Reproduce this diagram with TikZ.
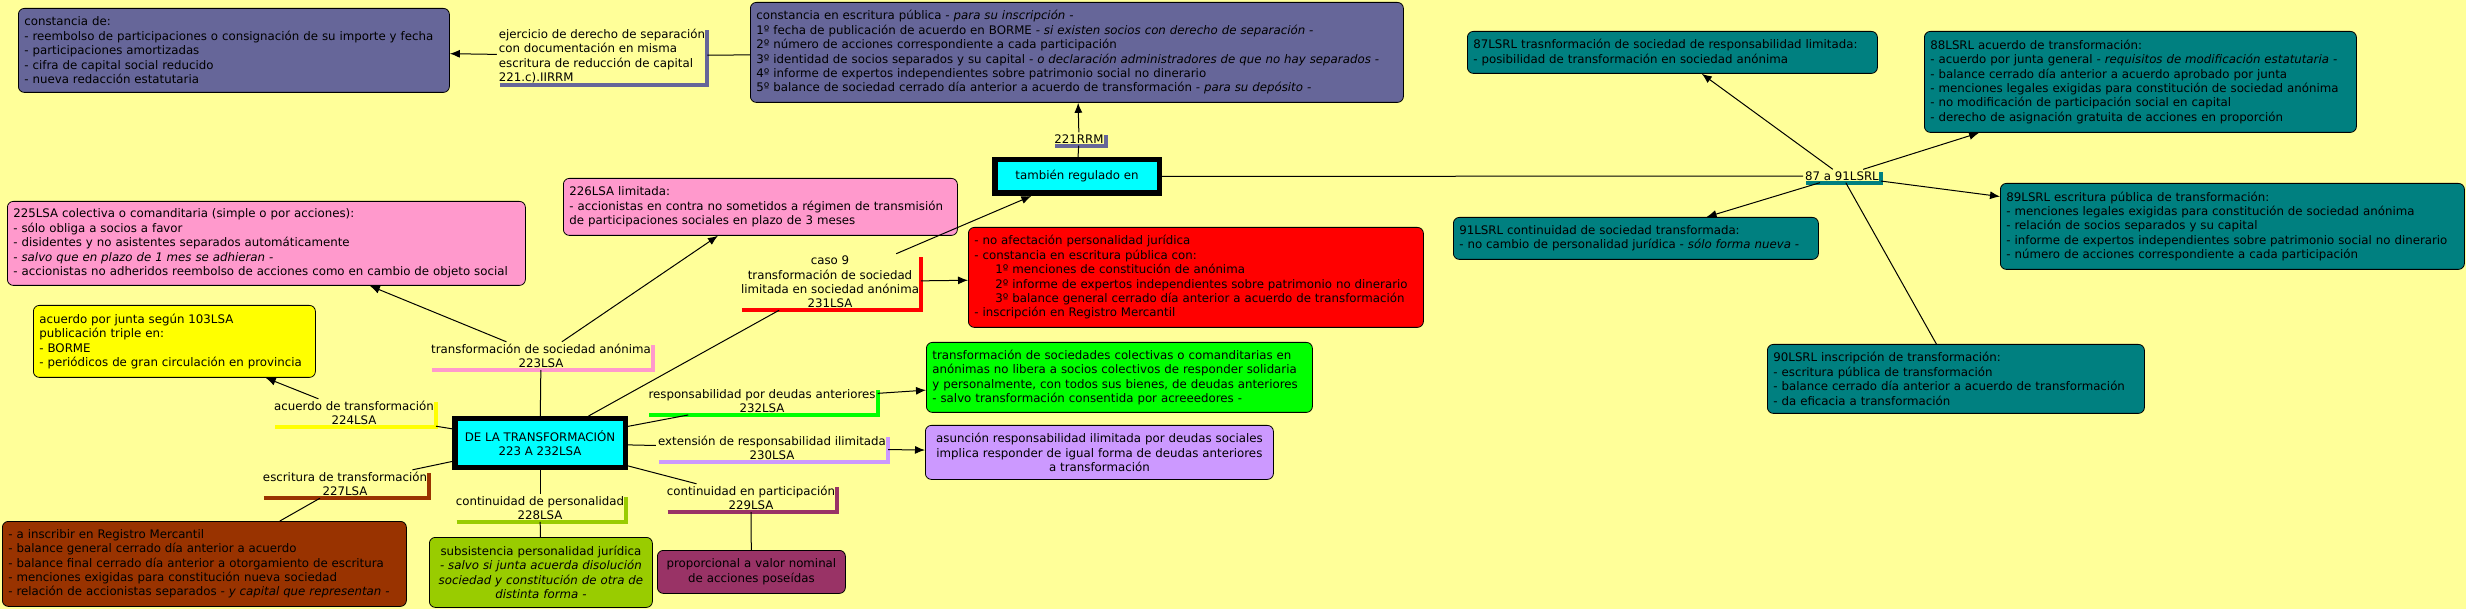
\documentclass[tikz,border=0pt]{standalone}
\usepackage{fontspec}
\setmainfont{DejaVu Sans}
\usepackage{xcolor}
\usepackage{tikz}
\usetikzlibrary{arrows.meta}

\definecolor{bgyellow}{HTML}{FFFF99}
\definecolor{slate}{HTML}{666699}
\definecolor{hubcyan}{HTML}{00FFFF}
\definecolor{rosa}{HTML}{FF99CC}
\definecolor{amarillo}{HTML}{FFFF00}
\definecolor{rojo}{HTML}{FF0000}
\definecolor{verde}{HTML}{00FF00}
\definecolor{lila}{HTML}{CC99FF}
\definecolor{marron}{HTML}{993300}
\definecolor{oliva}{HTML}{99CC00}
\definecolor{ciruela}{HTML}{993366}
\definecolor{petroleo}{HTML}{008080}

\begin{document}
\begin{tikzpicture}[
  x=1pt, y=-1pt,
  font=\fontsize{11.8}{14.4}\selectfont,
  block/.style={
    rectangle, draw, anchor=north west,
    rounded corners=6pt, line width=0.8pt,
    align=left, inner xsep=6pt
  },
  hub/.style={
    rectangle, draw, fill=hubcyan,
    line width=5.5pt, align=center
  },
  phrase/.style={inner sep=2pt, align=center},
  ledge/.style={line width=4pt},
  line/.style={draw, line width=1pt},
  arrowline/.style={line, -{Latex[length=10pt,width=8pt]}}
]

  \useasboundingbox (0,0) rectangle (2466,609);
  \fill[bgyellow] (0,0) rectangle (2466,609);

  \node [hub, minimum width=170.5pt, minimum height=48.5pt] (main) at (540,443) {DE LA TRANSFORMACIÓN\\223 A 232LSA};
  \node [hub, minimum width=164.5pt, minimum height=33.5pt] (tambien) at (1077,176.5) {también regulado en};

  \node [block, fill=slate, text width=419pt, minimum height=84pt] (c221) at (18,8) {constancia de:\\- reembolso de participaciones o consignación de su importe y fecha\\- participaciones amortizadas\\- cifra de capital social reducido\\- nueva redacción estatutaria};
  \node [block, fill=slate, text width=641pt, minimum height=100pt] (crrm) at (750,2) {constancia en escritura pública \textit{- para su inscripción -}\\1º fecha de publicación de acuerdo en BORME \textit{- si existen socios con derecho de separación -}\\2º número de acciones correspondiente a cada participación\\3º identidad de socios separados y su capital \textit{- o declaración administradores de que no hay separados -}\\4º informe de expertos independientes sobre patrimonio social no dinerario\\5º balance de sociedad cerrado día anterior a acuerdo de transformación \textit{- para su depósito -}};
  \node [block, fill=petroleo, text width=398pt, minimum height=42pt] (b87) at (1467,31) {87LSRL trasnformación de sociedad de responsabilidad limitada:\\- posibilidad de transformación en sociedad anónima};
  \node [block, fill=petroleo, text width=420pt, minimum height=101pt] (b88) at (1924,31) {88LSRL acuerdo de transformación:\\- acuerdo por junta general \textit{- requisitos de modificación estatutaria -}\\- balance cerrado día anterior a acuerdo aprobado por junta\\- menciones legales exigidas para constitución de sociedad anónima\\- no modificación de participación social en capital\\- derecho de asignación gratuita de acciones en proporción};
  \node [block, fill=petroleo, text width=452pt, minimum height=86pt] (b89) at (2000,183) {89LSRL escritura pública de transformación:\\- menciones legales exigidas para constitución de sociedad anónima\\- relación de socios separados y su capital\\- informe de expertos independientes sobre patrimonio social no dinerario\\- número de acciones correspondiente a cada participación};
  \node [block, fill=petroleo, text width=353pt, minimum height=42pt] (b91) at (1453,217) {91LSRL continuidad de sociedad transformada:\\- no cambio de personalidad jurídica \textit{- sólo forma nueva -}};
  \node [block, fill=petroleo, text width=365pt, minimum height=69pt] (b90) at (1767,344) {90LSRL inscripción de transformación:\\- escritura pública de transformación\\- balance cerrado día anterior a acuerdo de transformación\\- da eficacia a transformación};

  \node [block, fill=rosa, text width=506pt, minimum height=84pt] (b225) at (7,201) {225LSA colectiva o comanditaria (simple o por acciones):\\- sólo obliga a socios a favor\\- disidentes y no asistentes separados automáticamente\\\textit{- salvo que en plazo de 1 mes se adhieran -}\\- accionistas no adheridos reembolso de acciones como en cambio de objeto social};
  \node [block, fill=rosa, text width=382pt, minimum height=57pt] (b226) at (563,178) {226LSA limitada:\\- accionistas en contra no sometidos a régimen de transmisión\\de participaciones sociales en plazo de 3 meses};
  \node [block, fill=amarillo, text width=270pt, minimum height=72pt] (byellow) at (33,305) {acuerdo por junta según 103LSA\\publicación triple en:\\- BORME\\- periódicos de gran circulación en provincia};
  \node [block, fill=rojo, text width=443pt, minimum height=100pt] (bred) at (968,227) {- no afectación personalidad jurídica\\- constancia en escritura pública con:\\\hspace*{21pt}1º menciones de constitución de anónima\\\hspace*{21pt}2º informe de expertos independientes sobre patrimonio no dinerario\\\hspace*{21pt}3º balance general cerrado día anterior a acuerdo de transformación\\- inscripción en Registro Mercantil};
  \node [block, fill=verde, text width=374pt, minimum height=70pt] (bgreen) at (926,342) {transformación de sociedades colectivas o comanditarias en\\anónimas no libera a socios colectivos de responder solidaria\\y personalmente, con todos sus bienes, de deudas anteriores\\- salvo transformación consentida por acreeedores -};
  \node [block, fill=lila, align=center, text width=336pt, minimum height=54pt] (bpurple) at (925,425) {asunción responsabilidad ilimitada por deudas sociales\\implica responder de igual forma de deudas anteriores\\a transformación};
  \node [block, fill=oliva, align=center, text width=211pt, minimum height=70pt] (bolive) at (429,537) {subsistencia personalidad jurídica\\\textit{- salvo si junta acuerda disolución}\\\textit{sociedad y constitución de otra de}\\\textit{distinta forma -}};
  \node [block, fill=ciruela, align=center, text width=176pt, minimum height=43pt] (bmaroon) at (657,550) {proporcional a valor nominal\\de acciones poseídas};
  \node [block, fill=marron, text width=392pt, minimum height=85pt] (bbrown) at (2,521) {- a inscribir en Registro Mercantil\\- balance general cerrado día anterior a acuerdo\\- balance final cerrado día anterior a otorgamiento de escritura\\- menciones exigidas para constitución nueva sociedad\\- relación de accionistas separados \textit{- y capital que representan -}};

  \node [phrase, align=left] (ejercicio) at (602,56) {ejercicio de derecho de separación\\con documentación en misma\\escritura de reducción de capital\\221.c).IIRRM};
  \node [phrase] (rrm) at (1079,139) {221RRM};
  \node [phrase] (lsrl) at (1842,176) {87 a 91LSRL};
  \node [phrase] (sa) at (541,356) {transformación de sociedad anónima\\223LSA};
  \node [phrase] (acuerdo) at (354,413) {acuerdo de transformación\\224LSA};
  \node [phrase] (caso) at (830,282) {caso 9\\transformación de sociedad\\limitada en sociedad anónima\\231LSA};
  \node [phrase] (deudas) at (762,401) {responsabilidad por deudas anteriores\\232LSA};
  \node [phrase] (extension) at (772,448) {extensión de responsabilidad ilimitada\\230LSA};
  \node [phrase] (participacion) at (751,498) {continuidad en participación\\229LSA};
  \node [phrase] (personalidad) at (540,508) {continuidad de personalidad\\228LSA};
  \node [phrase] (escritura) at (345,484) {escritura de transformación\\227LSA};

  \draw [ledge, slate] ([xshift=3pt]ejercicio.south west) -| ([yshift=-3pt]ejercicio.north east);
  \draw [ledge, slate] ([xshift=3pt]rrm.south west) -| ([yshift=-3pt]rrm.north east);
  \draw [ledge, petroleo] ([xshift=3pt]lsrl.south west) -| ([yshift=-3pt]lsrl.north east);
  \draw [ledge, rosa] ([xshift=3pt]sa.south west) -| ([yshift=-3pt]sa.north east);
  \draw [ledge, amarillo] ([xshift=3pt]acuerdo.south west) -| ([yshift=-3pt]acuerdo.north east);
  \draw [ledge, rojo] ([xshift=3pt]caso.south west) -| ([yshift=-3pt]caso.north east);
  \draw [ledge, verde] ([xshift=3pt]deudas.south west) -| ([yshift=-3pt]deudas.north east);
  \draw [ledge, lila] ([xshift=3pt]extension.south west) -| ([yshift=-3pt]extension.north east);
  \draw [ledge, ciruela] ([xshift=3pt]participacion.south west) -| ([yshift=-3pt]participacion.north east);
  \draw [ledge, oliva] ([xshift=3pt]personalidad.south west) -| ([yshift=-3pt]personalidad.north east);
  \draw [ledge, marron] ([xshift=3pt]escritura.south west) -| ([yshift=-3pt]escritura.north east);

  \path [line] (crrm) -- (ejercicio);
  \path [arrowline] (ejercicio) -- (c221);
  \path [line] (tambien) -- (rrm);
  \path [arrowline] (rrm) -- (crrm);
  \path [line] (tambien) -- (lsrl);
  \path [arrowline] (lsrl) -- (b87);
  \path [arrowline] (lsrl) -- (b88);
  \path [arrowline] (lsrl) -- (b89);
  \path [arrowline] (lsrl) -- (b91);
  \path [line] (lsrl) -- (b90);

  \path [line] (main) -- (sa);
  \path [arrowline] (sa) -- (b225);
  \path [arrowline] (sa) -- (b226);
  \path [line] (main) -- (caso);
  \path [arrowline] (caso) -- (tambien);
  \path [arrowline] (caso) -- (bred);
  \path [line] (main) -- (deudas);
  \path [arrowline] (deudas) -- (bgreen);
  \path [line] (main) -- (extension);
  \path [arrowline] (extension) -- (bpurple);
  \path [line] (main) -- (participacion);
  \path [line] (participacion) -- (bmaroon);
  \path [line] (main) -- (personalidad);
  \path [line] (personalidad) -- (bolive);
  \path [line] (main) -- (escritura);
  \path [line] (escritura) -- (bbrown);
  \path [line] (main) -- (acuerdo);
  \path [arrowline] (acuerdo) -- (byellow);

\end{tikzpicture}
\end{document}
